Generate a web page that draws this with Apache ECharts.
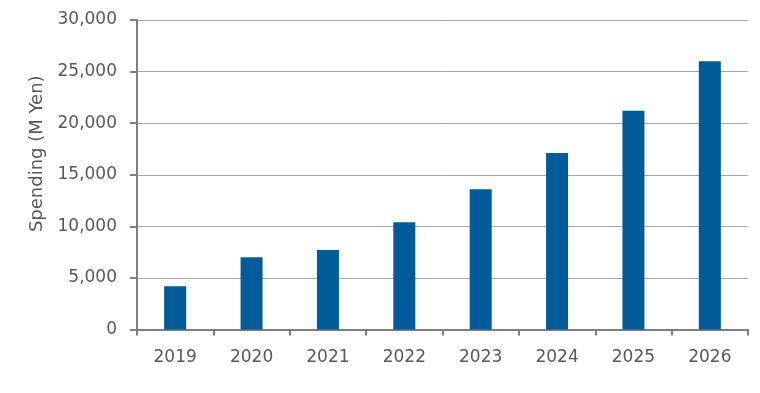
<!DOCTYPE html>
<html><head><meta charset="utf-8">
<script src="https://cdn.jsdelivr.net/npm/echarts@6/dist/echarts.min.js"></script>
<style>html,body{margin:0;padding:0;background:#fff}#c{width:760px;height:393px}</style>
</head><body><div id="c"></div>
<script>
const categories = ['2019','2020','2021','2022','2023','2024','2025','2026'];
const spending = [4200, 7000, 7700, 10400, 13600, 17100, 21200, 26000];
const yTicks = [0, 5000, 10000, 15000, 20000, 25000, 30000];
const yTitle = 'Spending (M Yen)';

const chart = echarts.init(document.getElementById('c'), null, {renderer: 'canvas'});
const font = 'DejaVu Sans';
chart.setOption({
  animation: false,
  grid: {left: 137, right: 12, top: 20, bottom: 63.5, containLabel: false},
  xAxis: {
    type: 'category', data: categories,
    axisLine: {lineStyle: {color: '#7f7f7f', width: 2}},
    axisTick: {show: true, alignWithLabel: false, length: 6, lineStyle: {color: '#7f7f7f', width: 2}},
    axisLabel: {color: '#595959', fontFamily: font, fontSize: 17, margin: 20}
  },
  yAxis: {
    type: 'value', min: yTicks[0], max: yTicks[yTicks.length-1], interval: 5000,
    name: yTitle, nameLocation: 'middle', nameGap: 88,
    nameTextStyle: {color: '#595959', fontFamily: font, fontSize: 18, padding: [0, 0, 0, 42]},
    axisLine: {show: true, lineStyle: {color: '#7f7f7f', width: 2}},
    axisTick: {show: true, length: 7, lineStyle: {color: '#7f7f7f', width: 2}},
    axisLabel: {color: '#595959', fontFamily: font, fontSize: 17, margin: 20,
      formatter: v => v.toLocaleString('en-US')},
    splitLine: {lineStyle: {color: '#a6a6a6', width: 1}}
  },
  series: [{
    type: 'bar', data: spending, barWidth: 22,
    itemStyle: {color: '#005b99'}
  }]
});
</script></body></html>
